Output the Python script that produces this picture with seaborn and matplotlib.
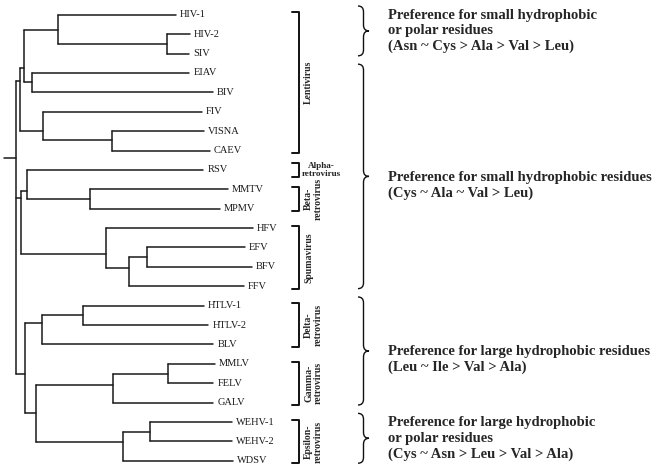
import matplotlib
matplotlib.use("Agg")
import matplotlib.pyplot as plt
from matplotlib.path import Path
from matplotlib.patches import PathPatch
import pandas as pd
import seaborn as sns

# leaves, top to bottom, with tip depth (branch length)
leaf_names = ['HIV-1', 'HIV-2', 'SIV', 'EIAV', 'BIV', 'FIV', 'VISNA', 'CAEV',
              'RSV', 'MMTV', 'MPMV', 'HFV', 'EFV', 'BFV', 'FFV',
              'HTLV-1', 'HTLV-2', 'BLV', 'MMLV', 'FELV', 'GALV',
              'WEHV-1', 'WEHV-2', 'WDSV']
leaf_depth = [176, 190, 189, 189.3, 212.7, 201.7, 204, 210,
              203.3, 228, 220, 253, 245, 251.7, 244,
              204, 208.3, 213.3, 215, 213.3, 213.3,
              231.7, 231.7, 232.7]

# internal nodes: depth, row and children
node_names = ['hiv2siv', 'hiv', 'eiavbiv', 'lentiA', 'visnacaev', 'fivc', 'lentiB',
              'beta', 'alphabeta', 'efvbfv', 'efbfffv', 'spuma', 'abspuma',
              'htlv', 'delta', 'mmlvfelv', 'gamma', 'wehv', 'eps', 'gammaeps', 'deltaeps',
              'root']
node_depth = [166.7, 58.3, 32, 24.3, 111.7, 43.3, 19.7,
              90, 27.3, 146.7, 129.3, 105.7, 20.7,
              82.7, 42, 168.3, 112.7, 150, 122.7, 35.7, 24.7,
              16.3]
node_row = [1.5, 0.79, 3.45, 2.75, 6.47, 5.98, 3.42,
            9.5, 9.1, 12.5, 13.04, 12.35, 9.43,
            15.5, 15.88, 18.5, 19.09, 21.5, 22.02, 20.55, 18.54,
            7.37]
node_children = [['HIV-2', 'SIV'], ['HIV-1', 'hiv2siv'], ['EIAV', 'BIV'], ['hiv', 'eiavbiv'],
                 ['VISNA', 'CAEV'], ['FIV', 'visnacaev'], ['lentiA', 'fivc'],
                 ['MMTV', 'MPMV'], ['RSV', 'beta'], ['EFV', 'BFV'], ['efvbfv', 'FFV'],
                 ['HFV', 'efbfffv'], ['alphabeta', 'spuma'],
                 ['HTLV-1', 'HTLV-2'], ['htlv', 'BLV'], ['MMLV', 'FELV'], ['mmlvfelv', 'GALV'],
                 ['WEHV-1', 'WEHV-2'], ['wehv', 'WDSV'], ['gamma', 'eps'], ['delta', 'gammaeps'],
                 ['lentiB', 'abspuma', 'deltaeps']]

# genus brackets
group_labels = ['Lentivirus', 'Alpha-\nretrovirus', 'Beta-\nretrovirus', 'Spumavirus',
                'Delta-\nretrovirus', 'Gamma-\nretrovirus', 'Epsilon-\nretrovirus']
group_first = [0, 8, 9, 11, 15, 18, 21]
group_last = [7, 8, 10, 14, 17, 20, 23]

# residue preference braces
brace_texts = ['Preference for small hydrophobic\nor polar residues\n(Asn ~ Cys > Ala > Val > Leu)',
               'Preference for small hydrophobic residues\n(Cys ~ Ala ~ Val > Leu)',
               'Preference for large hydrophobic residues\n(Leu ~ Ile > Val > Ala)',
               'Preference for large hydrophobic\nor polar residues\n(Cys ~ Asn > Leu > Val > Ala)']
brace_first = [0, 3, 15, 21]
brace_last = [2, 14, 20, 23]

sns.set_style('white')
plt.rcParams['font.family'] = ['Liberation Serif', 'DejaVu Serif']

depth = dict(zip(leaf_names, leaf_depth))
depth.update(zip(node_names, node_depth))
row = {n: i for i, n in enumerate(leaf_names)}
row.update(zip(node_names, node_row))

# build tree segments
segs = []
k = 0
for name, kids in zip(node_names, node_children):
    ys = [row[c] for c in kids]
    segs += [(k, depth[name], min(ys)), (k, depth[name], max(ys))]
    k += 1
    for c in kids:
        segs += [(k, depth[name], row[c]), (k, depth[c], row[c])]
        k += 1
segs += [(k, 4, row['root']), (k, depth['root'], row['root'])]
tree = pd.DataFrame(segs, columns=['seg', 'x', 'y'])

fig = plt.figure(figsize=(6.56, 4.73), dpi=100)
ax = fig.add_axes([0, 0, 1, 1])
sns.lineplot(data=tree, x='x', y='y', units='seg', estimator=None, sort=False,
             color='#1a1a1a', lw=1.1, ax=ax, legend=False)

for name, d in zip(leaf_names, leaf_depth):
    ax.text(d + 4, row[name], name, fontsize=7.5, va='center', ha='left', color='#1a1a1a')

# genus brackets
bx = 299
for lab, a, b in zip(group_labels, group_first, group_last):
    pad = 0.35 if a == b else 0.12
    y0, y1 = a - pad, b + pad
    ax.plot([bx - 7, bx, bx, bx - 7], [y0, y0, y1, y1], color='#111111', lw=1.4)
    if a == b:
        ax.text(bx + 22, (y0 + y1) / 2, lab, fontsize=6.6, fontweight='bold',
                ha='center', va='center', multialignment='center', linespacing=1.05)
    else:
        ax.text(bx + 5, (y0 + y1) / 2, lab, fontsize=7, fontweight='bold', rotation=90,
                ha='left', va='center', multialignment='center', linespacing=1.15)

# curly braces
cx, w, r = 358, 11, 0.3
for txt, a, b in zip(brace_texts, brace_first, brace_last):
    y0, y1 = a - 0.45, b + 0.12
    ym = (y0 + y1) / 2
    xm = cx + w / 2
    verts = [(cx, y0), (xm, y0), (xm, y0 + r), (xm, ym - r), (xm, ym), (cx + w, ym),
             (xm, ym), (xm, ym + r), (xm, y1 - r), (xm, y1), (cx, y1)]
    codes = [Path.MOVETO, Path.CURVE3, Path.CURVE3, Path.LINETO, Path.CURVE3, Path.CURVE3,
             Path.CURVE3, Path.CURVE3, Path.LINETO, Path.CURVE3, Path.CURVE3]
    ax.add_patch(PathPatch(Path(verts, codes), fill=False, color='#111111', lw=1.0))
    nl = txt.count('\n') + 1
    ax.text(388, ym + (3 - nl) * 0.45, txt, fontsize=10.5, fontweight='bold',
            ha='left', va='center', linespacing=1.25)

ax.set_xlim(0, 656)
ax.set_ylim(23.624, -0.758)
ax.axis('off')
fig.savefig('out.png', dpi=100)
